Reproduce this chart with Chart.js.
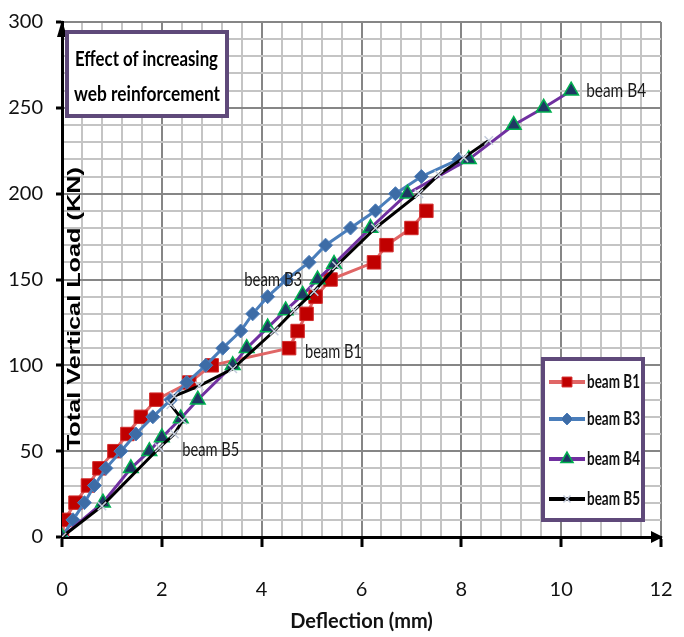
<!DOCTYPE html>
<html>
<head>
<meta charset="utf-8">
<script src="https://cdn.jsdelivr.net/npm/chart.js@4.4.0/dist/chart.umd.min.js"></script>
<style>
html,body{margin:0;padding:0;background:#fff;}
</style>
</head>
<body>
<canvas id="beamChart" width="684" height="637"></canvas>
<script>
// deflection (mm) / total vertical load (kN)
var b1Defl = [0, 0.05, 0.27, 0.52, 0.75, 1.05, 1.31, 1.58, 1.89, 2.55, 3.0, 4.55, 4.72, 4.9, 5.08, 5.38, 6.25, 6.5, 7.0, 7.3];
var b1Load = [0, 10, 20, 30, 40, 50, 60, 70, 80, 90, 100, 110, 120, 130, 140, 150, 160, 170, 180, 190];

var b3Defl = [0, 0.22, 0.45, 0.65, 0.88, 1.18, 1.48, 1.82, 2.18, 2.5, 2.88, 3.22, 3.58, 3.82, 4.12, 4.5, 4.95, 5.28, 5.78, 6.28, 6.68, 7.2, 7.95];
var b3Load = [0, 10, 20, 30, 40, 50, 60, 70, 80, 90, 100, 110, 120, 130, 140, 150, 160, 170, 180, 190, 200, 210, 220];

var b4Defl = [0, 0.82, 1.38, 1.75, 2.0, 2.38, 2.72, 3.42, 3.7, 4.12, 4.48, 4.82, 5.12, 5.45, 6.18, 6.92, 8.15, 9.05, 9.65, 10.2];
var b4Load = [0, 20, 40, 50, 58, 69, 80, 100, 110, 122, 132, 141, 150, 159, 180, 200, 220, 240, 250, 260];

var b5Defl = [0, 0.8, 1.95, 2.25, 2.42, 2.18, 2.25, 2.75, 3.42, 4.25, 4.65, 5.05, 5.5, 6.28, 7.15, 7.55, 8.05, 8.55];
var b5Load = [0, 18, 52, 60, 68, 77, 82, 88, 98, 120, 132, 143, 158, 180, 200, 211, 221, 231];

var seriesNames = ["beam B1", "beam B3", "beam B4", "beam B5"];
var xTickLabels = [0, 2, 4, 6, 8, 10, 12];
var yTickLabels = [0, 50, 100, 150, 200, 250, 300];

function toPoints(xs, ys){
	var pts = [];
	for(var i=0;i<xs.length;i++){
		pts.push({x: xs[i], y: ys[i]});
	}
	return pts;
}
function isLabelled(list, v){
	for(var i=0;i<list.length;i++){
		if(Math.abs(list[i]-v) < 1e-6) return true;
	}
	return false;
}

var face = "Lato, 'Liberation Sans', sans-serif";
var purple = "#5f497a";

//series notes drawn next to the curves (value coordinates + text width)
var notes = [
	{text: "beam B4", x: 10.5, y: 260, w: 60},
	{text: "beam B3", x: 3.65, y: 150, w: 58},
	{text: "beam B1", x: 4.87, y: 108, w: 57},
	{text: "beam B5", x: 2.41, y: 51, w: 57}
];

//text squeezed to a given width, like the narrow font of the original
function squeezeText(ctx, text, x, y, w){
	var tw = ctx.measureText(text).width;
	ctx.save();
	ctx.translate(x, y);
	ctx.scale(w/tw, 1);
	ctx.fillText(text, 0, 0);
	ctx.restore();
}

function drawMarker(ctx, ds, cx, cy, r){
	ctx.save();
	ctx.fillStyle = ds.pointBackgroundColor;
	ctx.strokeStyle = ds.pointBorderColor;
	ctx.lineWidth = ds.pointBorderWidth;
	ctx.beginPath();
	if(ds.pointStyle == "rect"){
		var s = r*Math.SQRT1_2;
		ctx.rect(cx-s, cy-s, 2*s, 2*s);
	}else if(ds.pointStyle == "rectRot"){
		ctx.moveTo(cx-r, cy); ctx.lineTo(cx, cy-r); ctx.lineTo(cx+r, cy); ctx.lineTo(cx, cy+r); ctx.closePath();
	}else if(ds.pointStyle == "triangle"){
		ctx.moveTo(cx, cy-r); ctx.lineTo(cx+r*0.866, cy+r/2); ctx.lineTo(cx-r*0.866, cy+r/2); ctx.closePath();
	}else{
		var c = r*Math.SQRT1_2;
		ctx.moveTo(cx-c, cy-c); ctx.lineTo(cx+c, cy+c);
		ctx.moveTo(cx+c, cy-c); ctx.lineTo(cx-c, cy+c);
	}
	if(ds.pointStyle != "crossRot") ctx.fill();
	ctx.stroke();
	ctx.restore();
}

var overlayPlugin = {
	id: "overlay",
	afterDraw: function(chart){
		var ctx = chart.ctx, area = chart.chartArea;
		var xs = chart.scales.x, ys = chart.scales.y;
		ctx.save();
		//axis arrows
		ctx.fillStyle = "#000";
		ctx.beginPath();
		ctx.moveTo(area.left, area.top - 2);
		ctx.lineTo(area.left - 5, area.top + 15);
		ctx.lineTo(area.left + 5, area.top + 15);
		ctx.closePath();
		ctx.fill();
		ctx.beginPath();
		ctx.moveTo(area.right + 2, area.bottom);
		ctx.lineTo(area.right - 10, area.bottom - 6);
		ctx.lineTo(area.right - 10, area.bottom + 6);
		ctx.closePath();
		ctx.fill();

		//y axis title, sits inside the plot
		ctx.save();
		ctx.translate(area.left + 13, ys.getPixelForValue(133));
		ctx.rotate(-Math.PI/2);
		ctx.font = "bold 18px 'Liberation Sans', Arial, sans-serif";
		var tw = ctx.measureText("Total Vertical Load (KN)").width;
		ctx.scale(283/tw, 1);
		ctx.fillStyle = "#000";
		ctx.textAlign = "center";
		ctx.textBaseline = "middle";
		ctx.fillText("Total Vertical Load (KN)", 0, 0);
		ctx.restore();

		//note box
		ctx.fillStyle = "#fff";
		ctx.fillRect(area.left + 5, area.top + 10, 160, 84);
		ctx.lineWidth = 4;
		ctx.strokeStyle = purple;
		ctx.strokeRect(area.left + 5, area.top + 10, 160, 84);
		ctx.fillStyle = "#000";
		ctx.font = "bold 21px " + face;
		ctx.textAlign = "left";
		ctx.textBaseline = "middle";
		squeezeText(ctx, "Effect of increasing", area.left + 13, area.top + 37, 143);
		squeezeText(ctx, "web reinforcement", area.left + 12, area.top + 72, 146);

		//curve notes
		ctx.font = "20px " + face;
		ctx.fillStyle = "#1a1a1a";
		for(var i=0;i<notes.length;i++){
			squeezeText(ctx, notes[i].text, xs.getPixelForValue(notes[i].x), ys.getPixelForValue(notes[i].y), notes[i].w);
		}

		//legend
		var lx = area.right - 118, ly = area.bottom - 178;
		ctx.fillStyle = "#fff";
		ctx.fillRect(lx, ly, 100, 161);
		ctx.lineWidth = 4;
		ctx.strokeStyle = purple;
		ctx.strokeRect(lx, ly, 100, 161);
		ctx.font = "bold 18px " + face;
		var rows = [23, 60, 100, 140];
		var marks = [7, 6, 7, 5];
		for(var k=0;k<chart.data.datasets.length;k++){
			var ds = chart.data.datasets[k];
			var cy = ly + rows[k];
			ctx.strokeStyle = ds.borderColor;
			ctx.lineWidth = ds.borderWidth + 1;
			ctx.beginPath();
			ctx.moveTo(lx + 6, cy);
			ctx.lineTo(lx + 42, cy);
			ctx.stroke();
			drawMarker(ctx, ds, lx + 24, cy, marks[k]);
			ctx.fillStyle = "#111";
			squeezeText(ctx, ds.label, lx + 44, cy, 53);
		}
		ctx.restore();
	}
};

var beamChart = new Chart(document.getElementById("beamChart").getContext("2d"), {
	type: "scatter",
	data: {
		datasets: [
			{
				label: seriesNames[0],
				data: toPoints(b1Defl, b1Load),
				showLine: true,
				borderColor: "#e06666",
				borderWidth: 3,
				pointStyle: "rect",
				pointRadius: 9.5,
				pointBackgroundColor: "#c00000",
				pointBorderColor: "#d22a2a",
				pointBorderWidth: 1,
				order: 4
			},
			{
				label: seriesNames[1],
				data: toPoints(b3Defl, b3Load),
				showLine: true,
				borderColor: "#4a7ebb",
				borderWidth: 3,
				pointStyle: "rectRot",
				pointRadius: 7,
				pointBackgroundColor: "#3d6ca6",
				pointBorderColor: "#4f7fbb",
				pointBorderWidth: 1,
				order: 3
			},
			{
				label: seriesNames[2],
				data: toPoints(b4Defl, b4Load),
				showLine: true,
				borderColor: "#7030a0",
				borderWidth: 3,
				pointStyle: "triangle",
				pointRadius: 8.5,
				pointBackgroundColor: "#1f3864",
				pointBorderColor: "#00b050",
				pointBorderWidth: 1.5,
				order: 2
			},
			{
				label: seriesNames[3],
				data: toPoints(b5Defl, b5Load),
				showLine: true,
				borderColor: "#000000",
				borderWidth: 3,
				pointStyle: "crossRot",
				pointRadius: 6,
				pointBackgroundColor: "#c4ccdc",
				pointBorderColor: "#c4ccdc",
				pointBorderWidth: 1.5,
				order: 1
			}
		]
	},
	options: {
		responsive: false,
		devicePixelRatio: 1,
		animation: false,
		layout: {padding: {left: 0, top: 22, right: 23, bottom: 0}},
		plugins: {
			legend: {display: false},
			tooltip: {enabled: false}
		},
		scales: {
			x: {
				type: "linear",
				min: 0,
				max: 12,
				afterFit: function(scale){
					scale.height = 100;
					scale.paddingLeft = 0;
					scale.paddingRight = 0;
				},
				border: {display: true, color: "#000", width: 3},
				grid: {
					color: function(c){ return isLabelled(xTickLabels, c.tick.value) ? "#868686" : "#c4c4c4"; },
					lineWidth: 2,
					tickLength: 10,
					tickWidth: 3,
					tickColor: function(c){ return isLabelled(xTickLabels, c.tick.value) ? "#000" : "rgba(0,0,0,0)"; }
				},
				ticks: {
					stepSize: 0.4,
					autoSkip: false,
					maxRotation: 0,
					padding: 31,
					color: "#111",
					font: {family: face, size: 20},
					callback: function(v){ return isLabelled(xTickLabels, v) ? String(Math.round(v)) : ""; }
				},
				title: {
					display: true,
					text: "Deflection (mm)",
					color: "#111",
					font: {family: face, size: 20, weight: "bold"},
					padding: {top: 4, bottom: 3}
				}
			},
			y: {
				type: "linear",
				min: 0,
				max: 300,
				afterFit: function(scale){
					scale.width = 62;
					scale.paddingTop = 0;
					scale.paddingBottom = 0;
				},
				border: {display: true, color: "#000", width: 3},
				grid: {
					color: function(c){ return isLabelled(yTickLabels, c.tick.value) ? "#868686" : "#c4c4c4"; },
					lineWidth: 2,
					tickLength: 6,
					tickWidth: 3,
					tickColor: function(c){ return isLabelled(yTickLabels, c.tick.value) ? "#000" : "rgba(0,0,0,0)"; }
				},
				ticks: {
					stepSize: 10,
					autoSkip: false,
					padding: 13,
					color: "#111",
					font: {family: face, size: 20},
					callback: function(v){ return isLabelled(yTickLabels, v) ? String(v) : ""; }
				}
			}
		}
	},
	plugins: [overlayPlugin]
});
</script>
</body>
</html>
